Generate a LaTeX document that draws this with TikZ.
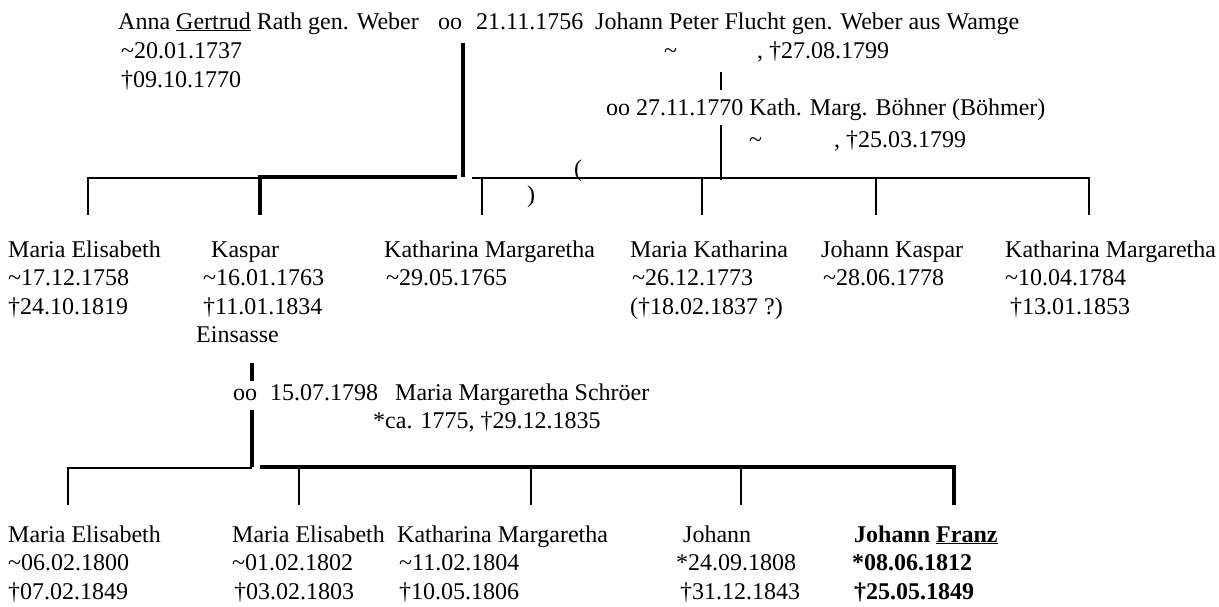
\documentclass[tikz,border=0pt]{standalone}
\usepackage{fontspec}
\setmainfont{Liberation Serif}
\tikzset{
  txt/.style={anchor=base west, inner sep=0pt, align=left,
    font=\fontsize{24pt}{28.5pt}\selectfont},
  branch/.style={line width=2pt},
  stem/.style={line width=4.5pt},
}
\newcommand{\til}{\textasciitilde}
\begin{document}
\begin{tikzpicture}[x=1pt, y=-1pt]
	\useasboundingbox (0,0) rectangle (1219,606);

	\coordinate (wa) at (463,43);
	\coordinate (wb) at (463,177);
	\coordinate (va) at (721,72);
	\coordinate (vb) at (721,90);
	\coordinate (vc) at (721,125);
	\coordinate (vd) at (721,180);
	\coordinate (la) at (88,215);
	\coordinate (lb) at (88,178);
	\coordinate (lc) at (260,178);
	\coordinate (ka) at (457,177);
	\coordinate (kb) at (260,177);
	\coordinate (kc) at (260,215);
	\coordinate (ra) at (472,178);
	\coordinate (rb) at (1089,178);
	\coordinate (rc) at (1089,215);

	\coordinate (ma) at (252,363);
	\coordinate (mb) at (252,381);
	\coordinate (mc) at (252,410);
	\coordinate (md) at (252,467);
	\coordinate (sa) at (252,468);
	\coordinate (sb) at (68,468);
	\coordinate (sc) at (68,505);
	\coordinate (fa) at (260,467);
	\coordinate (fb) at (954,467);
	\coordinate (fc) at (954,505);

	\draw[stem] (wa) -- (wb);
	\draw[branch, line width=2.7pt] (va) -- (vb);
	\draw[branch] (vc) -- (vd);
	\draw[branch] (la) -- (lb) -- (lc);
	\draw[stem] (ka) -- (kb) -- (kc);
	\draw[branch] (ra) -- (rb) -- (rc);
	\foreach \x in {482,702,876}
		\draw[branch] (\x,178) -- (\x,215);

	\draw[stem] (ma) -- (mb);
	\draw[stem] (mc) -- (md);
	\draw[branch] (sa) -- (sb) -- (sc);
	\draw[stem] (fa) -- (fb) -- (fc);
	\foreach \x in {299,531,741}
		\draw[branch] (\x,468) -- (\x,505);

	\node[txt] (anna) at (118,29) {Anna \underline{Gertrud} Rath gen. Weber};
	\node[txt] (oo1) at (438,29) {oo};
	\node[txt] (date1) at (476,29) {21.11.1756};
	\node[txt] (jp) at (595,29) {Johann Peter Flucht gen. Weber aus Wamge};
	\node[txt] (annad) at (121,87) {\til20.01.1737\\†09.10.1770};
	\node[txt] (jpb) at (664,58) {\til};
	\node[txt] (jpd) at (757,58) {, †27.08.1799};
	\node[txt] (kath) at (606,115) {oo 27.11.1770 Kath. Marg. Böhner (Böhmer)};
	\node[txt] (kathb) at (749,147) {\til};
	\node[txt] (kathd) at (834,147) {, †25.03.1799};
	\node[txt] (pl) at (574,176) {(};
	\node[txt] (pr) at (527,202) {)};

	\node[txt] (c1) at (8,314) {Maria Elisabeth\\\til17.12.1758\\†24.10.1819};
	\node[txt] (c2) at (203,342.5) {\hspace{8pt}Kaspar\\\til16.01.1763\\†11.01.1834\\\hspace{-7pt}Einsasse};
	\node[txt] (c3) at (384,285.5) {Katharina Margaretha\\\hspace{2pt}\til29.05.1765};
	\node[txt] (c4) at (630,314) {Maria Katharina\\\hspace{2pt}\til26.12.1773\\(†18.02.1837 ?)};
	\node[txt] (c5) at (821,285.5) {Johann Kaspar\\\hspace{2pt}\til28.06.1778};
	\node[txt] (c6) at (1005,314) {Katharina Margaretha\\\til10.04.1784\\\hspace{5pt}†13.01.1853};

	\node[txt] (oo2) at (233,400) {oo};
	\node[txt] (date2) at (270,400) {15.07.1798};
	\node[txt] (mms) at (395,400) {Maria Margaretha Schröer};
	\node[txt] (mmsd) at (373,428) {*ca. 1775, †29.12.1835};

	\node[txt] (g1) at (8,599) {Maria Elisabeth\\\til06.02.1800\\†07.02.1849};
	\node[txt] (g2) at (232,599) {Maria Elisabeth\\\til01.02.1802\\\hspace{2pt}†03.02.1803};
	\node[txt] (g3) at (397,599) {Katharina Margaretha\\\hspace{2pt}\til11.02.1804\\\hspace{2pt}†10.05.1806};
	\node[txt] (g4) at (676,599) {\hspace{7pt}Johann\\*24.09.1808\\\hspace{4pt}†31.12.1843};
	\node[txt, font=\fontsize{24pt}{28.5pt}\selectfont\bfseries] (g5) at (852,599) {\hspace{2pt}Johann \underline{Franz}\\*08.06.1812\\\hspace{2pt}†25.05.1849};
\end{tikzpicture}
\end{document}
